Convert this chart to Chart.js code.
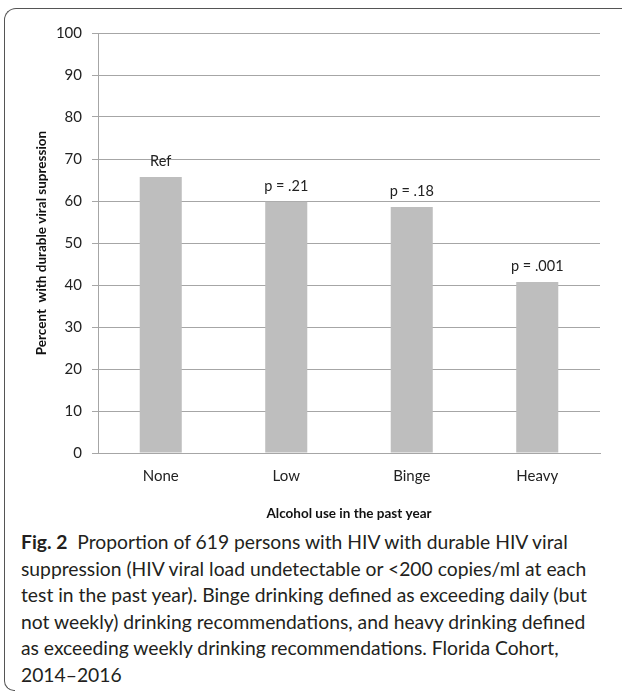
<!DOCTYPE html>
<html>
<head>
<meta charset="utf-8">
<script src="https://cdn.jsdelivr.net/npm/chart.js@4.4.1/dist/chart.umd.min.js"></script>
<style>
  html, body { margin: 0; padding: 0; background: #fff; }
  body { width: 622px; height: 697px; position: relative; overflow: hidden; }
  #frame {
    position: absolute; left: 4px; top: 8px; width: 660px; height: 670px;
    border-top: 1.5px solid #555; border-left: 1.5px solid #555;
    border-top-left-radius: 12px;
  }
  #corner {
    position: absolute; left: 4px; top: 676px; width: 10px; height: 14px;
    border-left: 1.5px solid #555; border-bottom: 1.5px solid #555;
    border-bottom-left-radius: 10px;
  }
  #wrap { position: absolute; left: 0; top: 0; width: 622px; height: 526px; }
  #caption {
    position: absolute; left: 21px; top: 529px;
    font-family: Lato, sans-serif; font-size: 19.3px; line-height: 26.6px;
    color: #231f20; white-space: nowrap;
  }
  #caption b { font-weight: bold; }
</style>
</head>
<body>
<div id="frame"></div>
<div id="corner"></div>
<div id="wrap"><canvas id="chart" width="622" height="526"></canvas></div>
<div id="caption"><b>Fig. 2</b>&nbsp; Proportion of 619 persons with HIV with durable HIV viral<br>suppression (HIV viral load undetectable or &lt;200 copies/ml at each<br>test in the past year). Binge drinking defined as exceeding daily (but<br>not weekly) drinking recommendations, and heavy drinking defined<br>as exceeding weekly drinking recommendations. Florida Cohort,<br>2014–2016</div>
<script>
const categories = ["None", "Low", "Binge", "Heavy"];
const suppression = [65.7, 59.8, 58.6, 40.7];
const pLabels = ["Ref", "p = .21", "p = .18", "p = .001"];
const yTicks = [0, 10, 20, 30, 40, 50, 60, 70, 80, 90, 100];

// writes the p-value text above each bar
const barLabels = {
    id: 'barLabels',
    afterDatasetsDraw(chart) {
        const ctx = chart.ctx;
        const meta = chart.getDatasetMeta(0);
        ctx.save();
        ctx.font = '14.5px Lato, sans-serif';
        ctx.fillStyle = '#222';
        ctx.textAlign = 'center';
        ctx.textBaseline = 'alphabetic';
        meta.data.forEach(function(bar, i) {
            ctx.fillText(pLabels[i], bar.x, bar.y - 11);
        });
        ctx.restore();
    }
};

document.addEventListener("DOMContentLoaded", function() {
    var ctx = document.getElementById('chart').getContext('2d');
    new Chart(ctx, {
        type: 'bar',
        data: {
            labels: categories,
            datasets: [{
                data: suppression,
                backgroundColor: "#bebebe",
                borderWidth: 0,
                barPercentage: 0.335,
                categoryPercentage: 1,
            }]
        },
        options: {
            responsive: false,
            animation: false,
            layout: { padding: { left: 30, right: 22, top: 33, bottom: 0 } },
            plugins: {
                legend: { display: false },
                tooltip: { enabled: false },
            },
            scales: {
                x: {
                    grid: { display: false },
                    border: { color: "#a6a6a6", width: 1 },
                    ticks: { color: "#222", padding: 6, font: { family: 'Lato', size: 15 } },
                    title: {
                        display: true,
                        text: "Alcohol use in the past year",
                        color: "#111",
                        font: { family: 'Lato', size: 13.5, weight: 'bold' },
                    },
                    afterFit: function(scale) { scale.height = 73; },
                },
                y: {
                    min: 0,
                    max: 100,
                    afterBuildTicks: function(scale) {
                        scale.ticks = yTicks.map(v => ({ value: v }));
                    },
                    grid: { color: "#a6a6a6", lineWidth: 1, tickLength: 6, drawTicks: true },
                    border: { color: "#a6a6a6", width: 1 },
                    ticks: { color: "#222", padding: 10, font: { family: 'Lato', size: 15 } },
                    title: {
                        display: true,
                        text: "Percent  with durable viral supression",
                        color: "#111",
                        font: { family: 'Lato', size: 13.5, weight: 'bold' },
                    },
                    afterFit: function(scale) { scale.width = 68; },
                },
            },
        },
        plugins: [barLabels],
    });
});
</script>
</body>
</html>
